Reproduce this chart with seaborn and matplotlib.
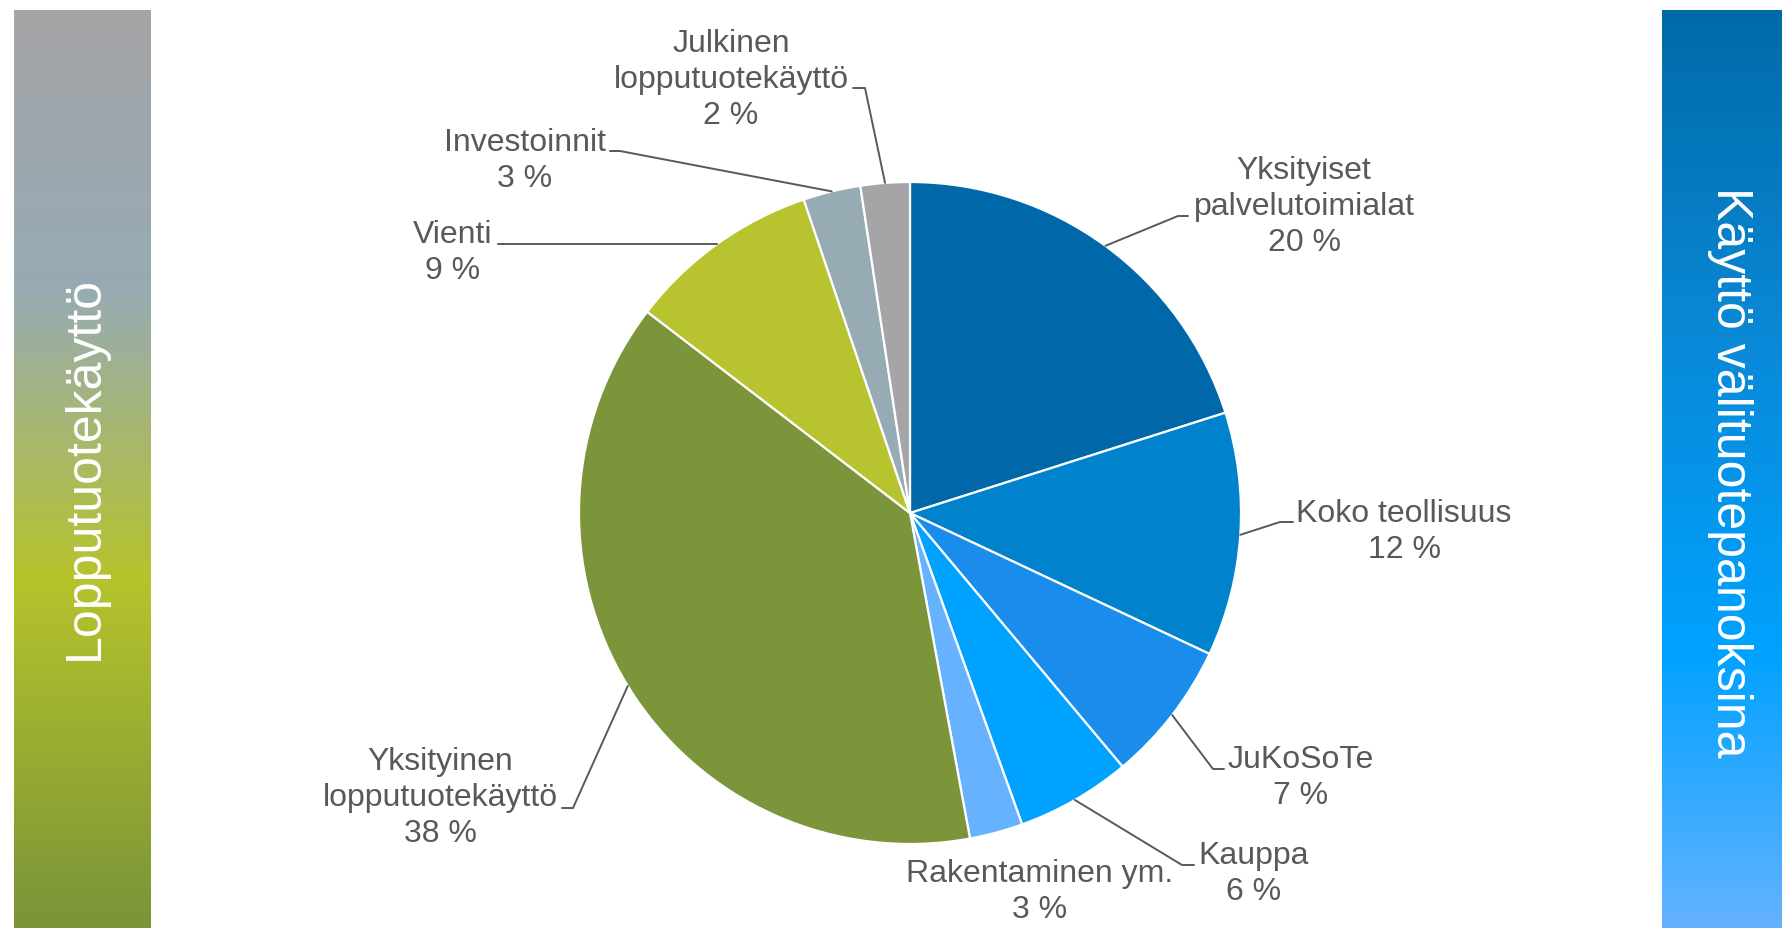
import matplotlib.pyplot as plt
import numpy as np
import seaborn as sns
from matplotlib.colors import LinearSegmentedColormap

# shares of total use, clockwise from 12 o'clock
categories = [
    "Yksityiset\npalvelutoimialat",
    "Koko teollisuus",
    "JuKoSoTe",
    "Kauppa",
    "Rakentaminen ym.",
    "Yksityinen\nlopputuotekäyttö",
    "Vienti",
    "Investoinnit",
    "Julkinen\nlopputuotekäyttö",
]
shares = [20.1, 11.9, 6.9, 5.6, 2.6, 38.3, 9.4, 2.8, 2.4]
slice_colors = [
    "#0068A8", "#0083CC", "#1A8CEB", "#00A2FF", "#66B2FF",
    "#7C953A", "#B7C430", "#96ABB4", "#A5A5A7",
]
side_titles = ["Lopputuotekäyttö", "Käyttö välituotepanoksina"]

W, H = 1782, 929
TEXT = "#595959"

# label layout in pixels (from top-left): text centre, elbow, end of leader
label_layout = [
    ((1304, 207), (1178, 217), (1188, 217)),
    ((1404, 532), (1280, 523), (1293, 523)),
    ((1301, 778), (1213, 770), (1224, 770)),
    ((1254, 874), (1182, 866), (1194, 866)),
    ((1040, 892), None, None),
    ((440, 798), (573, 809), (562, 809)),
    ((453, 253), "flat", (498, 244)),
    ((525, 161), (620, 152), (610, 152)),
    ((731, 80), (865, 89), (853, 89)),
]

sns.set_theme(style="white")
plt.rcParams["font.family"] = ["Liberation Sans", "DejaVu Sans"]


def px(x, y):
    return x, H - y


fig = plt.figure(figsize=(W / 100, H / 100), dpi=100)
ax = fig.add_axes([0, 0, 1, 1])

# gradient side bars
left_cmap = LinearSegmentedColormap.from_list(
    "left", [(0, "#A5A5A7"), (0.3, "#97ABB5"), (0.62, "#B6C32C"), (1, "#7A9438")])
right_cmap = LinearSegmentedColormap.from_list(
    "right", [(0, "#006AA8"), (0.35, "#0A88D6"), (0.7, "#00A2FF"), (1, "#64B2FF")])
grad = np.linspace(0, 1, 256).reshape(-1, 1)
ax.imshow(grad, cmap=left_cmap, extent=[14, 151, 0, H - 11], aspect="auto", zorder=0)
ax.imshow(grad, cmap=right_cmap, extent=[1662, W, 0, H - 11], aspect="auto", zorder=0)
ax.text(*px(85, 468), side_titles[0], rotation=90, color="white", fontsize=36,
        ha="center", va="center")
ax.text(*px(1730, 472), side_titles[1], rotation=-90, color="white", fontsize=36,
        ha="center", va="center")

cx, cy = px(910, 514)
r = 331
wedges, _ = ax.pie(
    shares, colors=slice_colors, startangle=90, counterclock=False,
    radius=r, center=(cx, cy),
    wedgeprops=dict(edgecolor="white", linewidth=1.6),
)

for w, name, val, (tc, elbow, end) in zip(wedges, categories, shares, label_layout):
    ax.text(*px(*tc), f"{name}\n{round(val)} %", ha="center", va="center",
            fontsize=23, color=TEXT, multialignment="center", linespacing=1.27)
    if end is None:
        continue
    mid = np.deg2rad((w.theta1 + w.theta2) / 2)
    ax0 = cx + r * np.cos(mid)
    ay0 = cy + r * np.sin(mid)
    ex, ey = px(*end)
    if elbow == "flat":
        xs, ys = [ax0, ex], [ay0, ay0]
    else:
        bx, by = px(*elbow)
        xs, ys = [ax0, bx, ex], [ay0, by, ey]
    ax.plot(xs, ys, color=TEXT, linewidth=1.4, zorder=3)

ax.set_xlim(0, W)
ax.set_ylim(0, H)
ax.axis("off")

fig.savefig("out.png", dpi=100, facecolor="white")
